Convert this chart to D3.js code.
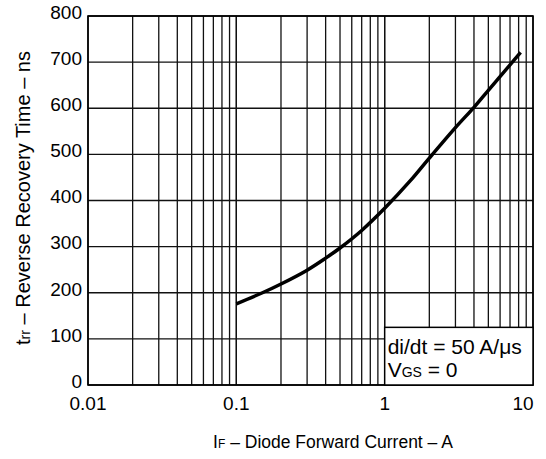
<!DOCTYPE html>
<html>
<head>
<meta charset="utf-8">
<script src="https://cdn.jsdelivr.net/npm/d3@7"></script>
<style>
  body { margin: 0; background: #fff; }
  text { font-family: "Liberation Sans", Arial, sans-serif; fill: #000; }
</style>
</head>
<body>
<svg id="chart" width="546" height="459"></svg>
<script>
// curve: forward current (A) vs reverse recovery time (ns)
let current = [0.1, 0.15, 0.2, 0.3, 0.4, 0.5, 0.7, 1, 1.5, 2, 3, 4, 5, 7, 8.25];
let trr     = [176, 200, 219, 249, 275, 297, 335, 383, 444, 492, 558, 602, 639, 694, 721];

let xTicks = [0.01, 0.1, 1, 10];
let xTickLabels = ["0.01", "0.1", "1", "10"];
let yTicks = [0, 100, 200, 300, 400, 500, 600, 700, 800];

let margins = { top: 16, right: 13, bottom: 74, left: 88 };
let width = 546 - margins.left - margins.right;
let height = 459 - margins.top - margins.bottom;

let xScale = d3.scaleLog().domain([0.01, 10]).range([0, width]);
let yScale = d3.scaleLinear().domain([0, 800]).range([height, 0]);

let svg = d3.select("#chart");
let graph = svg.append("g")
  .attr("transform", "translate(" + margins.left + "," + margins.top + ")");

// vertical grid: 1..9 in every decade
let minor = [];
[0.01, 0.1, 1].forEach(function(d) {
  for (let k = 1; k <= 10; k++) minor.push(d * k);
});
graph.selectAll(".vgrid")
  .data(minor)
  .enter().append("line")
  .attr("x1", function(d) { return xScale(d); })
  .attr("x2", function(d) { return xScale(d); })
  .attr("y1", 0)
  .attr("y2", height)
  .style("stroke", "#111")
  .style("stroke-width", 1.3);

// horizontal grid
graph.selectAll(".hgrid")
  .data(yTicks)
  .enter().append("line")
  .attr("x1", 0)
  .attr("x2", width)
  .attr("y1", function(d) { return yScale(d); })
  .attr("y2", function(d) { return yScale(d); })
  .style("stroke", "#111")
  .style("stroke-width", 1.3);

// frame
graph.append("rect")
  .attr("width", width)
  .attr("height", height)
  .style("fill", "none")
  .style("stroke", "#000")
  .style("stroke-width", 1.6);

// condition box, lower right
let boxTop = 125;
graph.append("rect")
  .attr("x", xScale(1))
  .attr("y", yScale(boxTop))
  .attr("width", xScale(10) - xScale(1))
  .attr("height", yScale(0) - yScale(boxTop))
  .style("fill", "#fff")
  .style("stroke", "#000")
  .style("stroke-width", 1.5);

let note = graph.append("g")
  .attr("transform", "translate(" + (xScale(1) + 3) + "," + yScale(boxTop) + ")")
  .style("font-size", "21px");
note.append("text").attr("y", 27).text("di/dt = 50 A/\u03bcs");
let vgs = note.append("text").attr("y", 50);
vgs.append("tspan").text("V");
vgs.append("tspan").style("font-size", "14px").text("GS");
vgs.append("tspan").text(" = 0");

// curve
let pts = current.map(function(d, i) { return { i: d, t: trr[i] }; });
let line = d3.line()
  .x(function(d) { return xScale(d.i); })
  .y(function(d) { return yScale(d.t); })
  .curve(d3.curveCatmullRom.alpha(0.5));
graph.append("path")
  .attr("d", line(pts))
  .style("fill", "none")
  .style("stroke", "#000")
  .style("stroke-width", 3.5);

// tick labels
graph.selectAll(".ylab")
  .data(yTicks)
  .enter().append("text")
  .attr("x", -6)
  .attr("y", function(d) { return yScale(d); })
  .attr("dy", "0.15em")
  .attr("text-anchor", "end")
  .style("font-size", "19px")
  .text(function(d) { return d; });

graph.selectAll(".xlab")
  .data(xTicks)
  .enter().append("text")
  .attr("x", function(d, i) { return xScale(d) - (i == 3 ? 10 : 0); })
  .attr("y", height + 25)
  .attr("text-anchor", "middle")
  .style("font-size", "19px")
  .text(function(d, i) { return xTickLabels[i]; });

// axis titles
let xt = svg.append("text")
  .attr("x", 333)
  .attr("y", 448)
  .attr("text-anchor", "middle")
  .style("font-size", "17.5px");
xt.append("tspan").text("I");
xt.append("tspan").style("font-size", "12px").text("F");
xt.append("tspan").text(" \u2013 Diode Forward Current \u2013 A");

let yt = svg.append("text")
  .attr("transform", "translate(30,198) rotate(-90)")
  .attr("text-anchor", "middle")
  .style("font-size", "20px");
yt.append("tspan").text("t");
yt.append("tspan").style("font-size", "14px").text("rr");
yt.append("tspan").text(" \u2013 Reverse Recovery Time \u2013 ns");
</script>
</body>
</html>
